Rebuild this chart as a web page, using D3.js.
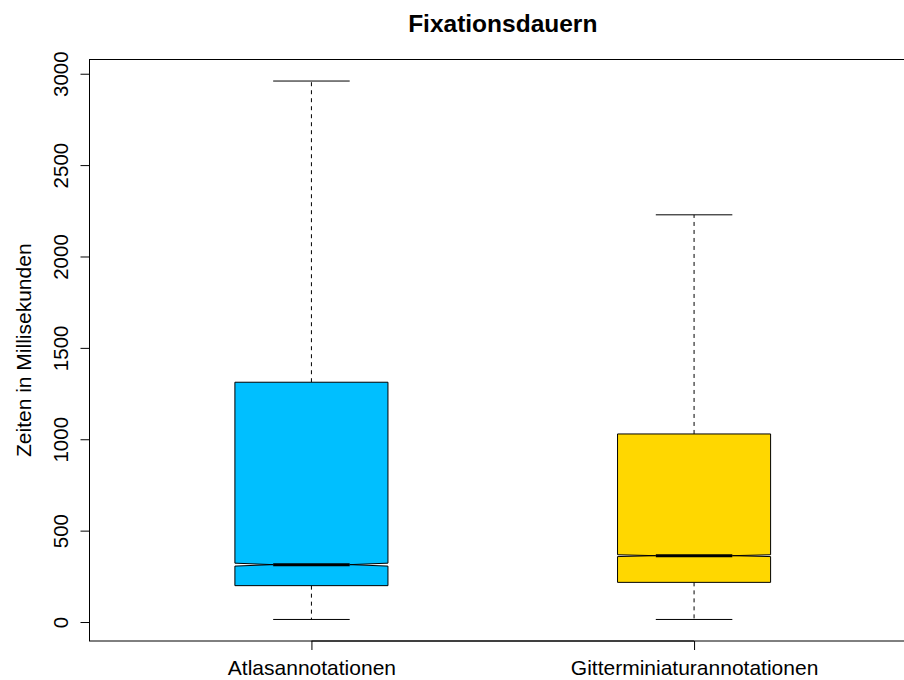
<!DOCTYPE html>
<html>
<head>
<meta charset="utf-8">
<script src="https://cdn.jsdelivr.net/npm/d3@7"></script>
<style>
  html, body { margin: 0; padding: 0; background: #fff; }
  svg { display: block; font-family: "Liberation Sans", Arial, Helvetica, sans-serif; }
</style>
</head>
<body>
<svg id="chart" width="904" height="680"></svg>
<script>
// Fixation durations per annotation type (milliseconds)
const categories = ["Atlasannotationen", "Gitterminiaturannotationen"];
const whiskerLow  = [14, 14];
const quartile1   = [199, 217];
const medians     = [314, 363];
const quartile3   = [1312, 1029];
const whiskerHigh = [2960, 2228];
const notchLow    = [306, 358];
const notchHigh   = [322, 368];
const fills       = ["#00BFFF", "#FFD700"];
const yTicks      = [0, 500, 1000, 1500, 2000, 2500, 3000];

const title = "Fixationsdauern";
const yLabel = "Zeiten in Millisekunden";

const svg = d3.select("#chart");
const plot = { left: 89.5, right: 916, top: 59.5, bottom: 641 };

// R-style axis extension: 4% padding on each side of the data range
const dMin = d3.min(whiskerLow), dMax = d3.max(whiskerHigh);
const pad = (dMax - dMin) * 0.04;
const y = d3.scaleLinear().domain([dMin - pad, dMax + pad]).range([plot.bottom, plot.top]);
const xPad = (2.5 - 0.5) * 0.04;
const x = d3.scaleLinear().domain([0.5 - xPad, 2.5 + xPad]).range([plot.left, plot.right]);

const boxWidth = 0.4;  // in category units
const capWidth = boxWidth / 2;
const medWidth = boxWidth / 2;

const data = categories.map((c, i) => ({
  name: c, pos: i + 1,
  lo: whiskerLow[i], q1: quartile1[i], med: medians[i], q3: quartile3[i], hi: whiskerHigh[i],
  nLo: notchLow[i], nHi: notchHigh[i], fill: fills[i]
}));

const g = svg.append("g");

data.forEach(d => {
  const cx = x(d.pos);
  const l = x(d.pos - boxWidth / 2), r = x(d.pos + boxWidth / 2);
  const ml = x(d.pos - medWidth / 2), mr = x(d.pos + medWidth / 2);
  const cl = x(d.pos - capWidth / 2), cr = x(d.pos + capWidth / 2);

  // whiskers (dashed)
  g.append("line").attr("x1", cx).attr("x2", cx).attr("y1", y(d.q3)).attr("y2", y(d.hi))
    .attr("stroke", "#000").attr("stroke-width", 1).attr("stroke-dasharray", "4,4");
  g.append("line").attr("x1", cx).attr("x2", cx).attr("y1", y(d.q1)).attr("y2", y(d.lo))
    .attr("stroke", "#000").attr("stroke-width", 1).attr("stroke-dasharray", "4,4");
  // caps
  [d.hi, d.lo].forEach(v => {
    g.append("line").attr("x1", cl).attr("x2", cr).attr("y1", y(v)).attr("y2", y(v))
      .attr("stroke", "#000").attr("stroke-width", 1);
  });

  // notched box
  const pts = [
    [l, y(d.q1)], [l, y(d.nLo)], [ml, y(d.med)], [l, y(d.nHi)], [l, y(d.q3)],
    [r, y(d.q3)], [r, y(d.nHi)], [mr, y(d.med)], [r, y(d.nLo)], [r, y(d.q1)]
  ];
  g.append("polygon").attr("points", pts.map(p => p.join(",")).join(" "))
    .attr("fill", d.fill).attr("stroke", "#000").attr("stroke-width", 1);

  // median
  g.append("line").attr("x1", ml).attr("x2", mr).attr("y1", y(d.med)).attr("y2", y(d.med))
    .attr("stroke", "#000").attr("stroke-width", 3);
});

// plot frame
svg.append("rect").attr("x", plot.left).attr("y", plot.top)
  .attr("width", plot.right - plot.left).attr("height", plot.bottom - plot.top)
  .attr("fill", "none").attr("stroke", "#000").attr("stroke-width", 1);

// y axis
const yAxis = svg.append("g").attr("transform", `translate(${plot.left},0)`)
  .call(d3.axisLeft(y).tickValues(yTicks).tickSize(9).tickFormat(d3.format("d")).tickPadding(0));
yAxis.select(".domain").attr("d", `M-0,${y(yTicks[0])}V${y(yTicks[yTicks.length - 1])}`);
yAxis.selectAll(".tick line").attr("stroke", "#000");
yAxis.selectAll(".tick text")
  .attr("x", 0).attr("y", 0).attr("dy", null)
  .attr("transform", "translate(-21.5,0) rotate(-90)")
  .attr("text-anchor", "middle")
  .style("font-size", "20.5px").style("font-family", "Liberation Sans, Arial, sans-serif")
  .attr("fill", "#000");

// x axis
const xAxis = svg.append("g").attr("transform", `translate(0,${plot.bottom})`)
  .call(d3.axisBottom(x).tickValues([1, 2]).tickSize(9).tickFormat((d, i) => categories[i]).tickPadding(0));
xAxis.select(".domain").attr("d", `M${x(1)},0H${x(2)}`);
xAxis.selectAll(".tick line").attr("stroke", "#000");
xAxis.selectAll(".tick text")
  .attr("y", 34).attr("dy", null)
  .style("font-size", "21px").style("font-family", "Liberation Sans, Arial, sans-serif")
  .attr("fill", "#000");

// title
svg.append("text").attr("x", (plot.left + plot.right) / 2).attr("y", 32)
  .attr("text-anchor", "middle").attr("font-weight", "bold").attr("font-size", "24.5px")
  .text(title);

// y label
svg.append("text")
  .attr("transform", `translate(31,${(plot.top + plot.bottom) / 2}) rotate(-90)`)
  .attr("text-anchor", "middle").attr("font-size", "21px")
  .text(yLabel);
</script>
</body>
</html>
